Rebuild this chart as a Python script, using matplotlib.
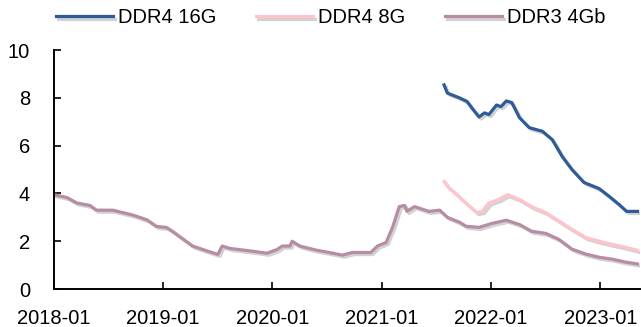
import numpy as np
import matplotlib.pyplot as plt
import matplotlib.patheffects as pe

plt.rcParams['font.family'] = ['Liberation Sans', 'DejaVu Sans']

# 时间（小数年）与价格（美元）
ddr3_t = [2018.00, 2018.12, 2018.21, 2018.33, 2018.39, 2018.54, 2018.72, 2018.85,
          2018.94, 2019.03, 2019.09, 2019.15, 2019.27, 2019.40, 2019.50, 2019.54,
          2019.61, 2019.79, 2019.95, 2020.04, 2020.09, 2020.16, 2020.18, 2020.25,
          2020.40, 2020.52, 2020.64, 2020.73, 2020.90, 2020.96, 2021.04, 2021.10,
          2021.16, 2021.21, 2021.23, 2021.30, 2021.43, 2021.53, 2021.60, 2021.71,
          2021.77, 2021.89, 2022.01, 2022.14, 2022.26, 2022.37, 2022.50, 2022.62,
          2022.74, 2022.87, 2022.99, 2023.11, 2023.23, 2023.34]
ddr3_v = [3.95, 3.83, 3.60, 3.50, 3.30, 3.30, 3.10, 2.90,
          2.62, 2.58, 2.40, 2.20, 1.80, 1.60, 1.45, 1.80,
          1.70, 1.60, 1.50, 1.65, 1.80, 1.80, 2.00, 1.80,
          1.63, 1.53, 1.42, 1.53, 1.53, 1.80, 1.95, 2.60,
          3.45, 3.50, 3.25, 3.45, 3.25, 3.30, 3.00, 2.80,
          2.63, 2.58, 2.75, 2.88, 2.70, 2.42, 2.33, 2.08,
          1.67, 1.46, 1.33, 1.25, 1.13, 1.05]

ddr4_8g_t = [2021.57, 2021.61, 2021.64, 2021.77, 2021.87, 2021.92, 2021.98, 2022.07,
             2022.15, 2022.26, 2022.37, 2022.50, 2022.62, 2022.74, 2022.87, 2022.99,
             2023.11, 2023.23, 2023.34]
ddr4_8g_v = [4.50, 4.25, 4.15, 3.60, 3.20, 3.25, 3.60, 3.75,
             3.95, 3.75, 3.45, 3.20, 2.85, 2.50, 2.15, 2.00,
             1.87, 1.75, 1.62]

ddr4_16g_t = [2021.57, 2021.60, 2021.71, 2021.78, 2021.82, 2021.89, 2021.94, 2021.98,
              2022.05, 2022.09, 2022.14, 2022.19, 2022.26, 2022.35, 2022.47, 2022.56,
              2022.65, 2022.74, 2022.85, 2022.99, 2023.08, 2023.17, 2023.24, 2023.34]
ddr4_16g_v = [8.54, 8.20, 8.00, 7.85, 7.60, 7.20, 7.37, 7.30,
              7.70, 7.63, 7.87, 7.80, 7.17, 6.75, 6.60, 6.25,
              5.55, 5.00, 4.46, 4.20, 3.88, 3.54, 3.25, 3.25]

year_ticks = [2018, 2019, 2020, 2021, 2022, 2023]
year_labels = ['2018-01', '2019-01', '2020-01', '2021-01', '2022-01', '2023-01']

fig = plt.figure(figsize=(6.41, 3.27), dpi=100)
ax = fig.add_axes([0.084, 0.116, 0.914, 0.731])

shadow = [pe.SimpleLineShadow(offset=(1.5, -1.5), shadow_color='gray', alpha=0.35),
          pe.Normal()]

ax.plot(ddr4_16g_t, ddr4_16g_v, color='#2F5B97', lw=2.3, label='DDR4 16G', path_effects=shadow)
ax.plot(ddr4_8g_t, ddr4_8g_v, color='#FFC3CC', lw=2.3, label='DDR4 8G', path_effects=shadow)
ax.plot(ddr3_t, ddr3_v, color='#B68DA3', lw=2.3, label='DDR3 4Gb', path_effects=shadow)

ax.set_xlim(2018, 2023.36)
ax.set_ylim(0, 10)
ax.set_xticks(year_ticks)
ax.set_xticklabels(year_labels)
ax.set_yticks(np.arange(0, 11, 2))
ax.tick_params(direction='in', labelsize=14.5, length=5, width=1.2)
ax.tick_params(axis='x', pad=14)
ax.tick_params(axis='y', pad=17)

for s in ['top', 'right']:
    ax.spines[s].set_visible(False)
for s in ['left', 'bottom']:
    ax.spines[s].set_linewidth(1.4)

fig.legend(loc='center', bbox_to_anchor=(0.516, 0.945), ncol=3, frameon=False,
           fontsize=14.5, handlelength=2.8, handletextpad=0.25, columnspacing=2.0,
           borderpad=0, borderaxespad=0)

plt.savefig('out.png', dpi=100)
